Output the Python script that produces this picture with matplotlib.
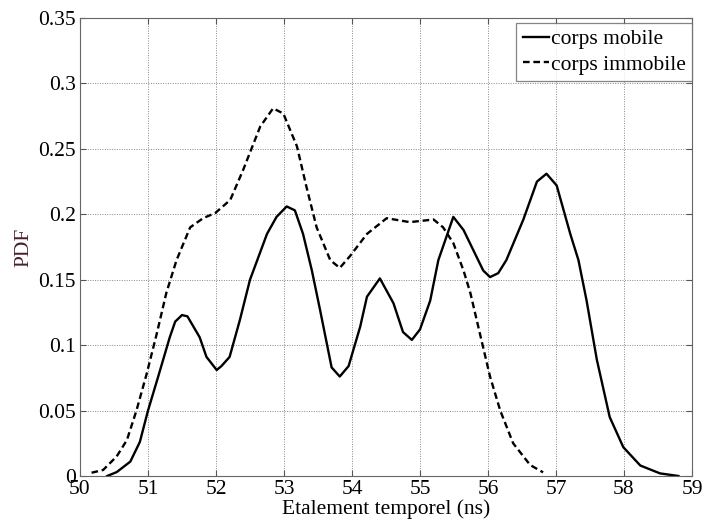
import matplotlib
matplotlib.use("Agg")
import matplotlib.pyplot as plt

x_mobile = [50.40, 50.54, 50.74, 50.88, 51.00, 51.15, 51.32, 51.40, 51.50, 51.58,
            51.76, 51.86, 52.01, 52.08, 52.20, 52.35, 52.50, 52.75, 52.89, 53.04,
            53.16, 53.28, 53.41, 53.53, 53.70, 53.82, 53.95, 54.12, 54.22, 54.41,
            54.61, 54.75, 54.88, 55.00, 55.15, 55.27, 55.49, 55.64, 55.93, 56.03,
            56.15, 56.27, 56.52, 56.72, 56.86, 57.01, 57.21, 57.33, 57.45, 57.60,
            57.79, 57.99, 58.24, 58.53, 58.80]
y_mobile = [0.000, 0.003, 0.011, 0.026, 0.050, 0.076, 0.106, 0.118, 0.123, 0.122,
            0.106, 0.091, 0.081, 0.084, 0.091, 0.119, 0.150, 0.185, 0.198, 0.206,
            0.203, 0.185, 0.157, 0.127, 0.083, 0.076, 0.084, 0.114, 0.137, 0.151,
            0.132, 0.110, 0.104, 0.112, 0.134, 0.165, 0.198, 0.188, 0.157, 0.152,
            0.155, 0.165, 0.196, 0.225, 0.231, 0.222, 0.185, 0.165, 0.134, 0.089,
            0.045, 0.022, 0.008, 0.002, 0.000]

x_immobile = [50.17, 50.34, 50.54, 50.69, 50.83, 50.98, 51.13, 51.27, 51.42, 51.62,
              51.81, 51.99, 52.21, 52.40, 52.65, 52.84, 52.99, 53.19, 53.33, 53.48,
              53.68, 53.82, 53.97, 54.22, 54.51, 54.85, 55.20, 55.34, 55.49, 55.64,
              55.74, 55.88, 56.03, 56.18, 56.37, 56.62, 56.81]
y_immobile = [0.0025, 0.0046, 0.015, 0.0275, 0.050, 0.078, 0.109, 0.140, 0.165, 0.190,
              0.197, 0.201, 0.211, 0.234, 0.267, 0.281, 0.277, 0.252, 0.221, 0.190,
              0.165, 0.159, 0.168, 0.185, 0.197, 0.194, 0.196, 0.190, 0.178, 0.157,
              0.140, 0.109, 0.076, 0.050, 0.025, 0.0084, 0.0028]

x_ticks = [50, 51, 52, 53, 54, 55, 56, 57, 58, 59]
y_ticks = [0, 0.05, 0.1, 0.15, 0.2, 0.25, 0.3, 0.35]
y_ticklabels = ["0", "0.05", "0.1", "0.15", "0.2", "0.25", "0.3", "0.35"]

plt.rcParams['font.family'] = ['Liberation Serif', 'DejaVu Serif']

fig = plt.figure(figsize=(7.04, 5.24), dpi=100)
ax = fig.add_axes([80/704, 48/524, 612/704, 458/524])

ax.plot(x_mobile, y_mobile, color='black', lw=1.7, linestyle='-',
        solid_joinstyle='round', label='corps mobile')
ax.plot(x_immobile, y_immobile, color='black', lw=1.7, linestyle=(0, (2.8, 1.6)),
        label='corps immobile')

ax.set_xlim(50, 59)
ax.set_ylim(0, 0.35)
ax.set_xticks(x_ticks)
ax.set_yticks(y_ticks)
ax.set_yticklabels(y_ticklabels)
ax.tick_params(direction='in', length=4, width=0.8, color='#555555',
               labelsize=15.5, pad=3, top=True, right=True)
ax.tick_params(axis='x', pad=3)
ax.grid(True, linestyle=(0, (1, 1.5)), color='#888888', linewidth=0.7)
for s in ax.spines.values():
    s.set_color('#666666')
    s.set_linewidth(0.8)

ax.set_xlabel('Etalement temporel (ns)', fontsize=15.5, labelpad=0)
ax.set_ylabel('PDF', fontsize=15.5, color='#4a2030', labelpad=3)

leg = ax.legend(loc='upper right', bbox_to_anchor=(1.0, 0.99), fontsize=15.5,
                frameon=True, fancybox=False,
                handlelength=1.2, handletextpad=0.1, borderpad=0.3, labelspacing=0.25,
                borderaxespad=0.0, edgecolor='#666666')
leg.get_frame().set_linewidth(0.9)

fig.savefig('out.png', dpi=100)
